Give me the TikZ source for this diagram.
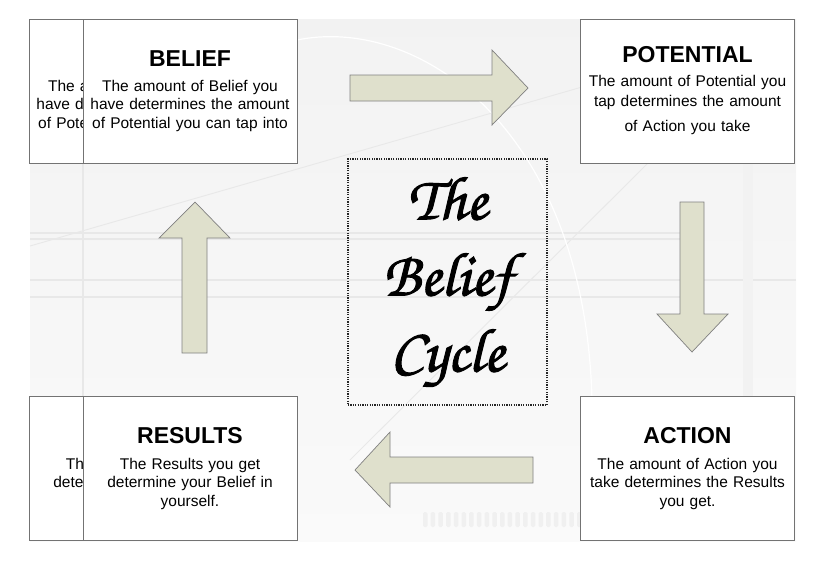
\documentclass[tikz,border=0pt]{standalone}
\usepackage{fontspec}
\setmainfont{Liberation Sans}
\newfontfamily\cyclefont[FakeBold=1.6]{texgyrechorus-mediumitalic.otf}
\usetikzlibrary{positioning}
\definecolor{arrowfill}{HTML}{DFE0CC}
\newcommand\stagetitle[1]{{\fontsize{23}{26}\selectfont\bfseries #1}}

\begin{document}
\begin{tikzpicture}[x=1pt,y=-1pt,
  stage/.style={draw=black!55,fill=white,line width=0.8pt,minimum width=214pt,minimum height=144pt,
    inner sep=0pt,text width=212pt,align=center,font=\fontsize{15.5}{18.3}\selectfont},
  bigarrow/.style={draw=black!50,fill=arrowfill,line width=0.7pt,line join=miter},
  bgline/.style={draw=black!9,line width=1.2pt}]
\useasboundingbox (0,0) rectangle (816,566);
% slide background
\fill[top color=black!5,bottom color=black!2] (30,19) rectangle (796,541);
\draw[bgline] (30,233) -- (680,233) (30,239) -- (680,239)
  (30,280) -- (796,280) (30,297) -- (680,297) (83,163) -- (83,397);
\draw[bgline,line width=0.9pt] (30,246) -- (582,87) (350,460) -- (648,163);
\draw[white,line width=1.2pt] (297,40) .. controls (420,15) and (585,130) .. (592,400);
\fill[black!5] (743,163) rectangle (753,541);
\foreach \i in {0,...,20}
  \fill[black!6,rounded corners=1.5pt] (423+\i*7.7,512) rectangle ++(4.5,15);

% stage boxes
\node[stage] (beliefback) at (136,91) {\vphantom{\stagetitle{B}}\\[6.7pt]The amount of Belief you\\have determines the amount\\of Potential you can tap into};
\node[stage] (belief) at (190,91) {\stagetitle{BELIEF}\\[6.7pt]The amount of Belief you\\have determines the amount\\of Potential you can tap into};
\node[stage] (potential) at (687.5,91) {\stagetitle{POTENTIAL}\\[5.7pt]The amount of Potential you\\[1.7pt]tap determines the amount\\[6.7pt]of Action you take};
\node[stage] (action) at (687.5,468.5) {\stagetitle{ACTION}\\[7.7pt]The amount of Action you\\take determines the Results\\you get.};
\node[stage] (resultsback) at (136,468.5) {\vphantom{\stagetitle{R}}\\[7.7pt]The Results you get\\determine your Belief in\\yourself.};
\node[stage] (results) at (190,468.5) {\stagetitle{RESULTS}\\[7.7pt]The Results you get\\determine your Belief in\\yourself.};

% centre title
\node[draw=black!85,dash pattern=on 1.2pt off 1.2pt,line width=1.1pt,minimum width=199pt,minimum height=246pt,
  inner sep=0pt,text width=195pt,align=center,font=\cyclefont\fontsize{62}{76}\selectfont] (cycle) at (447.5,282)
  {The\\Belief\\Cycle};

% block arrows
\draw[bigarrow] (350,75) -- (492,75) -- (492,50) -- (528,88) -- (492,125) -- (492,101) -- (350,101) -- cycle;
\draw[bigarrow] (680,202) -- (704,202) -- (704,314) -- (728,314) -- (692,352) -- (657,314) -- (680,314) -- cycle;
\draw[bigarrow] (533,457) -- (390,457) -- (390,432) -- (355,470) -- (390,507) -- (390,483) -- (533,483) -- cycle;
\draw[bigarrow] (182,353) -- (182,238) -- (159,238) -- (195,202) -- (230,238) -- (207,238) -- (207,353) -- cycle;
\end{tikzpicture}
\end{document}
